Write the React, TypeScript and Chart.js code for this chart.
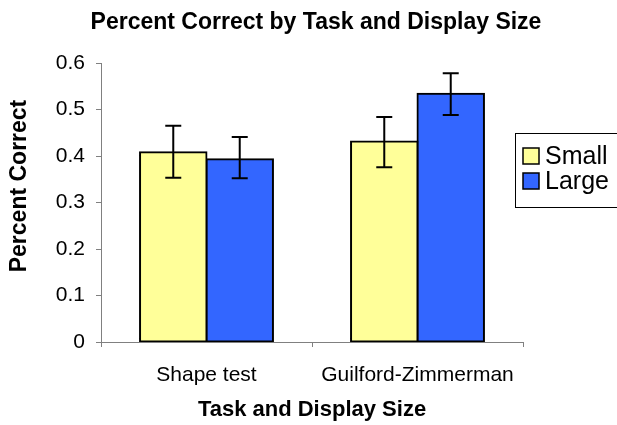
import { useEffect, useRef } from "react";
import { Chart, registerables } from "chart.js";

Chart.register(...registerables);

const categories = ["Shape test", "Guilford-Zimmerman"];
const seriesNames = ["Small", "Large"];
const seriesColors = ["#FFFF99", "#3366FF"];
const smallValues = [0.408, 0.431];
const largeValues = [0.393, 0.534];
const smallErrLow = [0.353, 0.376];
const smallErrHigh = [0.465, 0.484];
const largeErrLow = [0.352, 0.488];
const largeErrHigh = [0.441, 0.578];
const yTickLabels = ["0", "0.1", "0.2", "0.3", "0.4", "0.5", "0.6"];
const chartTitle = "Percent Correct by Task and Display Size";
const xTitle = "Task and Display Size";
const yTitle = "Percent Correct";

const FONT = "'Liberation Sans', Arial, sans-serif";

export default function App() {
  const ref = useRef<HTMLCanvasElement | null>(null);

  useEffect(() => {
    document.body.style.margin = "0";
    const canvas = ref.current;
    if (!canvas) return;

    const errors = [
      [smallErrLow, smallErrHigh],
      [largeErrLow, largeErrHigh],
    ];

    const errorBars = {
      id: "errorBars",
      afterDatasetsDraw(chart: any) {
        const ctx = chart.ctx;
        const yScale = chart.scales.y;
        ctx.save();
        ctx.strokeStyle = "#000";
        ctx.lineWidth = 2;
        chart.data.datasets.forEach((_: any, i: number) => {
          const meta = chart.getDatasetMeta(i);
          meta.data.forEach((bar: any, j: number) => {
            const x = bar.x;
            const yLo = yScale.getPixelForValue(errors[i][0][j]);
            const yHi = yScale.getPixelForValue(errors[i][1][j]);
            const cap = 8;
            ctx.beginPath();
            ctx.moveTo(x, yLo);
            ctx.lineTo(x, yHi);
            ctx.moveTo(x - cap, yLo);
            ctx.lineTo(x + cap, yLo);
            ctx.moveTo(x - cap, yHi);
            ctx.lineTo(x + cap, yHi);
            ctx.stroke();
          });
        });
        ctx.restore();
      },
    };

    const titleAndLegend = {
      id: "titleAndLegend",
      afterDraw(chart: any) {
        const ctx = chart.ctx;
        ctx.save();
        ctx.fillStyle = "#000";
        ctx.font = `bold 23px ${FONT}`;
        ctx.textAlign = "center";
        ctx.textBaseline = "middle";
        ctx.fillText(chartTitle, 316, 23);

        // y axis title
        ctx.save();
        ctx.translate(20, 186);
        ctx.rotate(-Math.PI / 2);
        ctx.font = `bold 23px ${FONT}`;
        ctx.fillText(yTitle, 0, 0);
        ctx.restore();

        // legend box
        const bx = 515.5, by = 133.5, bw = 110, bh = 74;
        ctx.fillStyle = "#fff";
        ctx.fillRect(bx, by, bw, bh);
        ctx.strokeStyle = "#000";
        ctx.lineWidth = 1;
        ctx.strokeRect(bx, by, bw, bh);
        ctx.font = `25px ${FONT}`;
        ctx.textAlign = "left";
        const rows = [156, 181];
        chart.data.datasets.forEach((ds: any, i: number) => {
          const cy = rows[i];
          ctx.fillStyle = ds.backgroundColor;
          ctx.fillRect(523, cy - 8, 16, 16);
          ctx.strokeStyle = "#000";
          ctx.lineWidth = 1.5;
          ctx.strokeRect(523, cy - 8, 16, 16);
          ctx.fillStyle = "#000";
          ctx.fillText(ds.label, 545, cy + 1);
        });
        ctx.restore();
      },
    };

    const chart = new Chart(canvas, {
      type: "bar",
      data: {
        labels: categories,
        datasets: [
          {
            label: seriesNames[0],
            data: smallValues,
            backgroundColor: seriesColors[0],
            borderColor: "#000",
            borderWidth: 2,
            borderSkipped: false,
            inflateAmount: 1,
          },
          {
            label: seriesNames[1],
            data: largeValues,
            backgroundColor: seriesColors[1],
            borderColor: "#000",
            borderWidth: 2,
            borderSkipped: false,
            inflateAmount: 1,
          },
        ],
      },
      options: {
        responsive: false,
        animation: false,
        datasets: { bar: { categoryPercentage: 0.63, barPercentage: 1 } },
        layout: { padding: { top: 63, right: 94, bottom: 0, left: 0 } },
        plugins: {
          legend: { display: false },
          title: { display: false },
          tooltip: { enabled: false },
        },
        scales: {
          x: {
            afterFit: (s: any) => {
              s.height = 83;
            },
            grid: {
              drawOnChartArea: false,
              drawTicks: true,
              tickLength: 5,
              color: "#808080",
              offset: true,
            },
            border: { color: "#808080", width: 1 },
            ticks: {
              color: "#000",
              padding: 16,
              font: { family: FONT, size: 21 },
              maxRotation: 0,
            },
            title: {
              display: true,
              text: xTitle,
              color: "#000",
              font: { family: FONT, size: 22, weight: "bold" },
              padding: { top: 0, bottom: 2 },
            },
          },
          y: {
            min: 0,
            max: 0.6,
            afterFit: (s: any) => {
              s.width = 101;
            },
            grid: {
              drawOnChartArea: false,
              drawTicks: true,
              tickLength: 5,
              color: "#808080",
            },
            border: { color: "#808080", width: 1 },
            ticks: {
              stepSize: 0.1,
              color: "#000",
              padding: 11,
              font: { family: FONT, size: 21 },
              callback: (_v: any, i: number) => yTickLabels[i],
            },
            title: { display: false },
          },
        },
      },
      plugins: [errorBars, titleAndLegend],
    });

    return () => chart.destroy();
  }, []);

  return <canvas ref={ref} width={617} height={425} style={{ display: "block" }} />;
}
